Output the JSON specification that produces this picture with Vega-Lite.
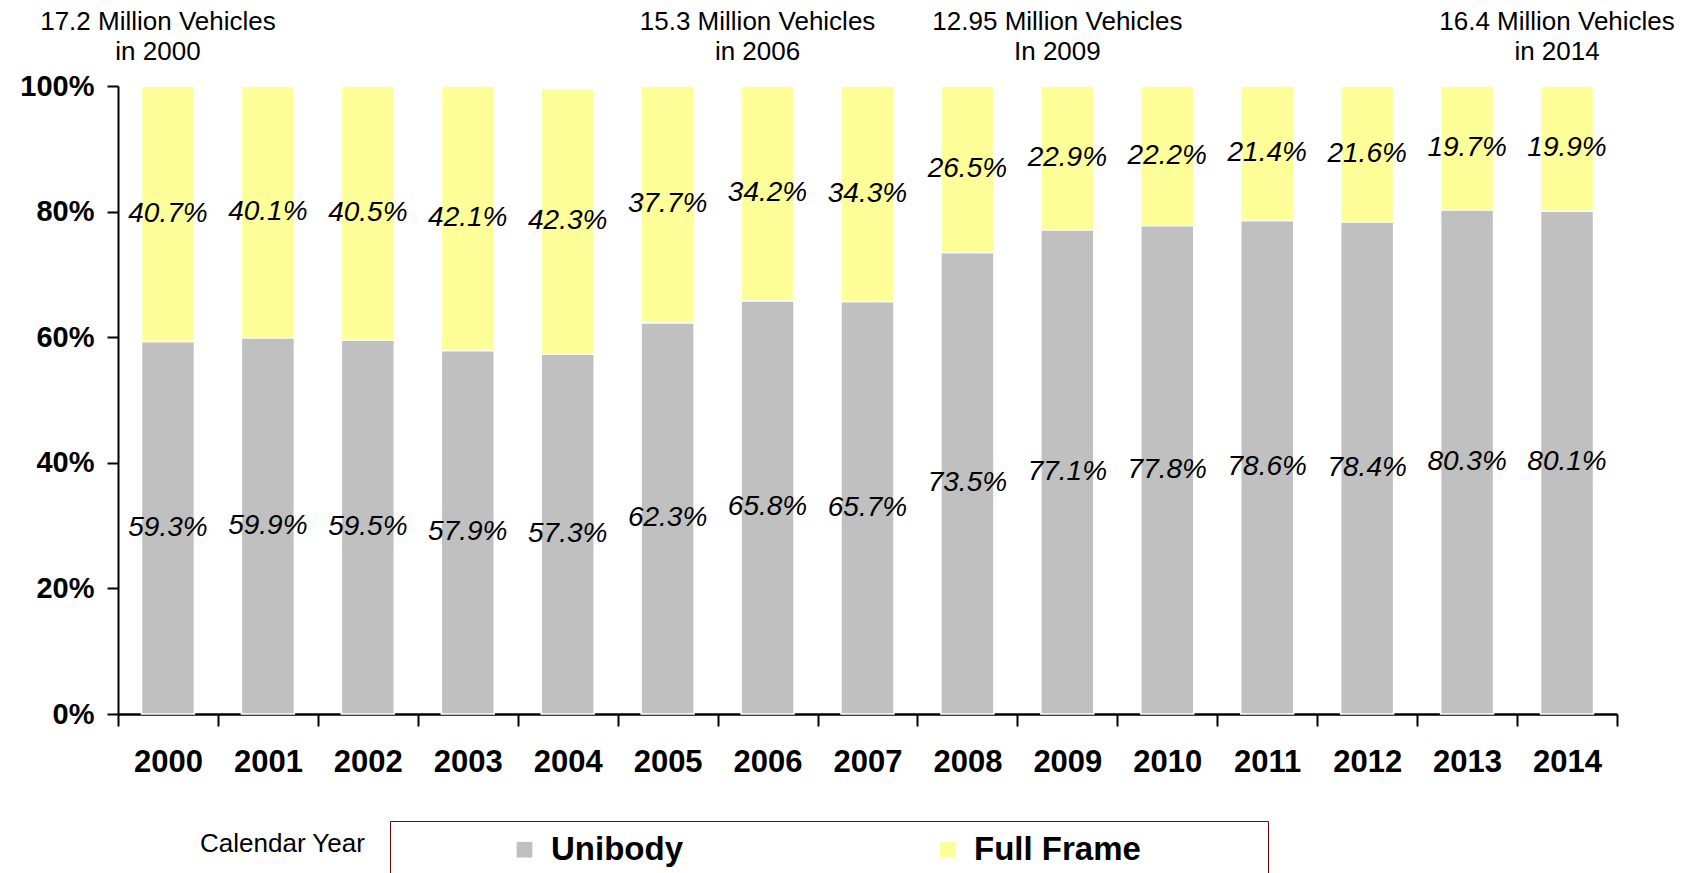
{
  "$schema": "https://vega.github.io/schema/vega-lite/v6.json",
  "width": 1499,
  "height": 628,
  "autosize": {"type": "none"},
  "padding": {"left": 118, "top": 86, "right": 83, "bottom": 159},
  "background": "white",
  "config": {"view": {"stroke": null}, "font": "Liberation Sans"},
  "datasets": {
    "shares": [
      {"year": "2000", "type": "Unibody", "share": 0.593}, {"year": "2000", "type": "Full Frame", "share": 0.407},
      {"year": "2001", "type": "Unibody", "share": 0.599}, {"year": "2001", "type": "Full Frame", "share": 0.401},
      {"year": "2002", "type": "Unibody", "share": 0.595}, {"year": "2002", "type": "Full Frame", "share": 0.405},
      {"year": "2003", "type": "Unibody", "share": 0.579}, {"year": "2003", "type": "Full Frame", "share": 0.421},
      {"year": "2004", "type": "Unibody", "share": 0.573}, {"year": "2004", "type": "Full Frame", "share": 0.423},
      {"year": "2005", "type": "Unibody", "share": 0.623}, {"year": "2005", "type": "Full Frame", "share": 0.377},
      {"year": "2006", "type": "Unibody", "share": 0.658}, {"year": "2006", "type": "Full Frame", "share": 0.342},
      {"year": "2007", "type": "Unibody", "share": 0.657}, {"year": "2007", "type": "Full Frame", "share": 0.343},
      {"year": "2008", "type": "Unibody", "share": 0.735}, {"year": "2008", "type": "Full Frame", "share": 0.265},
      {"year": "2009", "type": "Unibody", "share": 0.771}, {"year": "2009", "type": "Full Frame", "share": 0.229},
      {"year": "2010", "type": "Unibody", "share": 0.778}, {"year": "2010", "type": "Full Frame", "share": 0.222},
      {"year": "2011", "type": "Unibody", "share": 0.786}, {"year": "2011", "type": "Full Frame", "share": 0.214},
      {"year": "2012", "type": "Unibody", "share": 0.784}, {"year": "2012", "type": "Full Frame", "share": 0.216},
      {"year": "2013", "type": "Unibody", "share": 0.803}, {"year": "2013", "type": "Full Frame", "share": 0.197},
      {"year": "2014", "type": "Unibody", "share": 0.801}, {"year": "2014", "type": "Full Frame", "share": 0.199}
    ],
    "notes": [
      {"year": "2000", "note": "17.2 Million Vehicles\nin 2000"},
      {"year": "2006", "note": "15.3 Million Vehicles\nin 2006"},
      {"year": "2009", "note": "12.95 Million Vehicles\nIn 2009"},
      {"year": "2014", "note": "16.4 Million Vehicles\nin 2014"}
    ]
  },
  "encoding": {
    "x": {
      "field": "year",
      "type": "ordinal",
      "scale": {"paddingInner": 0, "paddingOuter": 0},
      "axis": {
        "title": "Calendar Year",
        "labelFontSize": 31,
        "labelFontWeight": "bold",
        "labelColor": "black",
        "labelAngle": 0,
        "labelPadding": 21,
        "tickBand": "extent",
        "tickSize": 12,
        "tickColor": "black",
        "tickWidth": 2,
        "domainColor": "black",
        "domainWidth": 2.5,
        "titleFontSize": 26,
        "titleFontWeight": "normal",
        "titleColor": "black",
        "titleX": 164,
        "titleY": 137,
        "titleAlign": "center",
        "titleBaseline": "alphabetic"
      }
    },
    "y": {
      "type": "quantitative",
      "scale": {"domain": [0, 1], "nice": false},
      "axis": {
        "title": null,
        "format": ".0%",
        "values": [0, 0.2, 0.4, 0.6, 0.8, 1],
        "grid": false,
        "labelFontSize": 29,
        "labelFontWeight": "bold",
        "labelColor": "black",
        "labelPadding": 13,
        "tickSize": 11,
        "tickColor": "black",
        "tickWidth": 2,
        "domainColor": "black",
        "domainWidth": 2
      }
    }
  },
  "layer": [
    {
      "data": {"name": "shares"},
      "transform": [
        {"stack": "share", "groupby": ["year"], "sort": [{"field": "type", "order": "descending"}], "as": ["lo", "hi"]},
        {"calculate": "(datum.lo + datum.hi) / 2", "as": "mid"}
      ],
      "layer": [
        {
          "mark": {"type": "bar", "stroke": "white", "strokeWidth": 1.5, "width": {"band": 0.53}},
          "encoding": {
            "y": {"field": "lo"},
            "y2": {"field": "hi"},
            "color": {
              "field": "type",
              "type": "nominal",
              "scale": {"domain": ["Unibody", "Full Frame"], "range": ["#C0C0C0", "#FFFF99"]},
              "legend": {
                "orient": "none",
                "legendX": 272,
                "legendY": 735,
                "direction": "horizontal",
                "title": "\u00a0",
                "titleOrient": "right",
                "titleFontSize": 11,
                "titlePadding": 115,
                "symbolType": "square",
                "symbolSize": 246,
                "symbolStrokeWidth": 0,
                "labelFontSize": 33,
                "labelFontWeight": "bold",
                "labelColor": "black",
                "labelFont": "Liberation Sans",
                "labelLimit": 400,
                "labelOffset": 10,
                "strokeColor": "#800000",
                "padding": 12,
                "columnPadding": 142,
                "symbolOffset": 106,
                "encode": {"legend": {"update": {"strokeWidth": {"value": 2.5}}}}
              }
            }
          }
        },
        {
          "mark": {"type": "text", "fontStyle": "italic", "fontSize": 28, "color": "black"},
          "encoding": {
            "y": {"field": "mid"},
            "text": {"field": "share", "type": "quantitative", "format": ".1%"}
          }
        }
      ]
    },
    {
      "data": {"name": "notes"},
      "mark": {"type": "text", "fontSize": 26, "lineBreak": "\n", "lineHeight": 30, "baseline": "alphabetic", "align": "center", "dy": -56, "dx": -10, "color": "black"},
      "encoding": {
        "y": {"datum": 1},
        "text": {"field": "note"}
      }
    }
  ]
}
